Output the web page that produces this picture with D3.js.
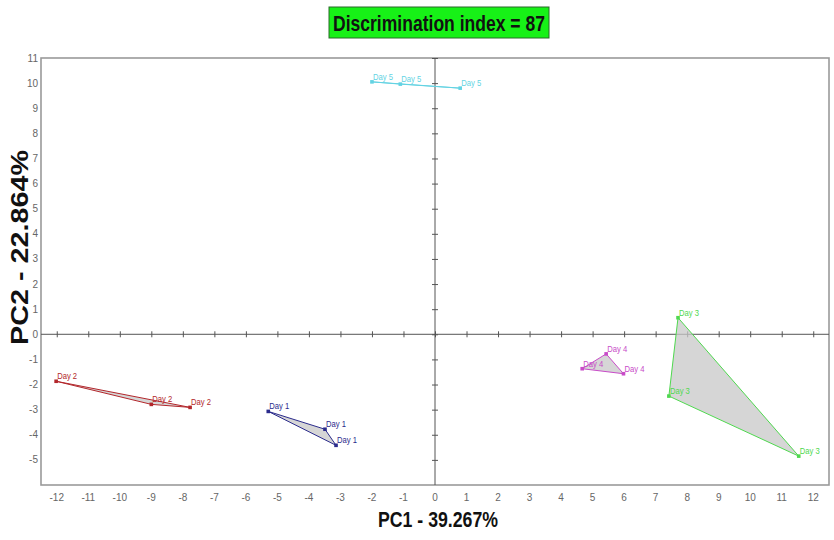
<!DOCTYPE html>
<html>
<head>
<meta charset="utf-8">
<script src="https://cdn.jsdelivr.net/npm/d3@7"></script>
<style>
  body { margin: 0; background: #fff; }
  svg { display: block; }
  .tick-label { font-family: "Liberation Sans", Arial, sans-serif; font-size: 10px; fill: #666; }
  .pt-label { font-family: "Liberation Sans", Arial, sans-serif; font-size: 9px; }
  .axis-title { font-family: "Liberation Sans", Arial, sans-serif; font-weight: bold; font-size: 22px; fill: #111; }
</style>
</head>
<body>
<svg id="chart" width="834" height="540"></svg>
<script>
// PCA scores (PC1, PC2)
var day1 = [[-5.29, -3.07], [-3.49, -3.78], [-3.14, -4.42]];
var day2 = [[-12.02, -1.87], [-9.0, -2.79], [-7.77, -2.91]];
var day3 = [[7.71, 0.66], [7.42, -2.46], [11.54, -4.85]];
var day4 = [[4.67, -1.37], [5.43, -0.78], [5.98, -1.57]];
var day5 = [[-2.0, 10.05], [-1.1, 9.96], [0.8, 9.8]];

var groupNames = ['Day 1', 'Day 2', 'Day 3', 'Day 4', 'Day 5'];
var xTickValues = [-12, -11, -10, -9, -8, -7, -6, -5, -4, -3, -2, -1, 0, 1, 2, 3, 4, 5, 6, 7, 8, 9, 10, 11, 12];
var yTickValues = [-5, -4, -3, -2, -1, 0, 1, 2, 3, 4, 5, 6, 7, 8, 9, 10, 11];
var titleText = 'Discrimination index = 87';
var xTitle = 'PC1 - 39.267%';
var yTitle = 'PC2 - 22.864%';

var colors = {
	'Day 1': '#2b2b8c',
	'Day 2': '#b3262b',
	'Day 3': '#4fd84f',
	'Day 4': '#c84bc8',
	'Day 5': '#63d3e3'
};

var groups = [
	{name: groupNames[0], pts: day1},
	{name: groupNames[1], pts: day2},
	{name: groupNames[2], pts: day3},
	{name: groupNames[3], pts: day4},
	{name: groupNames[4], pts: day5}
];

var svg = d3.select('#chart');

var plot = {left: 41, right: 829, top: 58, bottom: 485};

var x = d3.scaleLinear().domain([-12.5, 12.5]).range([plot.left, plot.right]);
var y = d3.scaleLinear().domain([-6, 11]).range([plot.bottom, plot.top]);

// title box
var titleG = svg.append('g');
titleG.append('rect')
	.attr('x', 329).attr('y', 7)
	.attr('width', 220).attr('height', 31)
	.attr('fill', '#17f117')
	.attr('stroke', '#2a6a2a').attr('stroke-width', 1);
titleG.append('text')
	.attr('x', 333).attr('y', 31)
	.attr('class', 'axis-title')
	.attr('textLength', 212)
	.attr('lengthAdjust', 'spacingAndGlyphs')
	.text(titleText);

// frame
svg.append('rect')
	.attr('x', plot.left).attr('y', plot.top)
	.attr('width', plot.right - plot.left).attr('height', plot.bottom - plot.top)
	.attr('fill', 'none')
	.attr('stroke', '#9a9a9a').attr('stroke-width', 1.6);

// tick labels outside the frame
svg.append('g').selectAll('text')
	.data(xTickValues).enter().append('text')
	.attr('class', 'tick-label')
	.attr('x', function(d) { return x(d); })
	.attr('y', 501)
	.attr('text-anchor', 'middle')
	.text(function(d) { return d; });

svg.append('g').selectAll('text')
	.data(yTickValues).enter().append('text')
	.attr('class', 'tick-label')
	.attr('x', plot.left - 3)
	.attr('y', function(d) { return y(d) + 3.5; })
	.attr('text-anchor', 'end')
	.text(function(d) { return d; });

// axes through the origin
var xAxis = d3.axisBottom(x).tickValues(xTickValues).tickSize(3).tickFormat('');
var yAxis = d3.axisLeft(y).tickValues(yTickValues).tickSize(3).tickFormat('');

var gx = svg.append('g')
	.attr('transform', 'translate(0,' + y(0) + ')')
	.call(xAxis);
gx.selectAll('line').attr('y1', -3).attr('y2', 3);

var gy = svg.append('g')
	.attr('transform', 'translate(' + x(0) + ',0)')
	.call(yAxis);
gy.selectAll('line').attr('x1', -3).attr('x2', 3);

svg.selectAll('.domain').remove();
gx.append('line').attr('x1', plot.left).attr('x2', plot.right).attr('y1', 0).attr('y2', 0);
gy.append('line').attr('x1', 0).attr('x2', 0).attr('y1', plot.top).attr('y2', plot.bottom);
svg.selectAll('g line').attr('stroke', '#555').attr('stroke-width', 1);

// groups: polygon + points + labels
var line = d3.line()
	.x(function(d) { return x(d[0]); })
	.y(function(d) { return y(d[1]); })
	.curve(d3.curveLinearClosed);

var g = svg.append('g').selectAll('g')
	.data(groups).enter().append('g');

g.append('path')
	.attr('d', function(d) { return line(d.pts); })
	.attr('fill', '#c8c8c8').attr('fill-opacity', 0.75)
	.attr('stroke', function(d) { return colors[d.name]; })
	.attr('stroke-width', 1);

g.each(function(grp) {
	var sel = d3.select(this);
	sel.selectAll('rect.pt')
		.data(grp.pts).enter().append('rect')
		.attr('class', 'pt')
		.attr('x', function(d) { return x(d[0]) - 1.8; })
		.attr('y', function(d) { return y(d[1]) - 1.8; })
		.attr('width', 3.6).attr('height', 3.6)
		.attr('fill', colors[grp.name]);
	sel.selectAll('text')
		.data(grp.pts).enter().append('text')
		.attr('class', 'pt-label')
		.attr('x', function(d) { return x(d[0]) + 1; })
		.attr('y', function(d) { return y(d[1]) - 2; })
		.attr('fill', colors[grp.name])
		.attr('textLength', 20)
		.attr('lengthAdjust', 'spacingAndGlyphs')
		.text(grp.name);
});

// axis titles
svg.append('text')
	.attr('class', 'axis-title')
	.attr('x', 378).attr('y', 527)
	.attr('textLength', 120)
	.attr('lengthAdjust', 'spacingAndGlyphs')
	.text(xTitle);

svg.append('text')
	.attr('class', 'axis-title')
	.attr('transform', 'translate(28,345) rotate(-90)')
	.attr('textLength', 195)
	.attr('lengthAdjust', 'spacingAndGlyphs')
	.style('font-size', '23px')
	.text(yTitle);
</script>
</body>
</html>
